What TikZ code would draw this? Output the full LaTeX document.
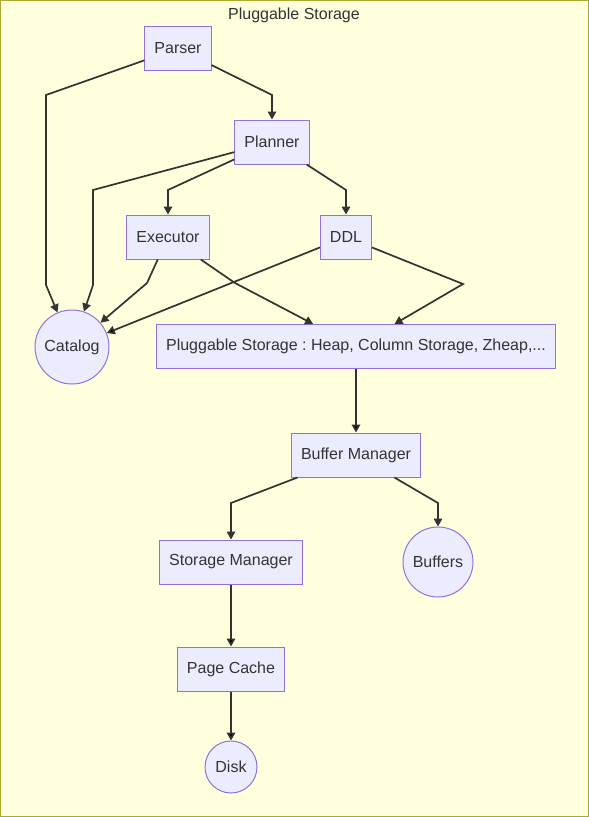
\documentclass[tikz,border=0pt]{standalone}
\usepackage{fontspec}
\setmainfont{Liberation Sans}
\usetikzlibrary{arrows.meta}
\definecolor{bgyellow}{HTML}{FFFFDE}
\definecolor{bgborder}{HTML}{AAAA33}
\definecolor{nodefill}{HTML}{ECECFF}
\definecolor{nodeline}{HTML}{9370DB}
\definecolor{darkline}{HTML}{333333}
\begin{document}
\frenchspacing
\begin{tikzpicture}[x=1pt, y=-1pt,
  every node/.style={font=\fontsize{16}{19}\selectfont, text=darkline},
  box/.style={shape=rectangle, draw=nodeline, fill=nodefill, line width=1pt, inner xsep=9.5pt, inner ysep=0pt, minimum height=44pt},
  round/.style={shape=circle, draw=nodeline, fill=nodefill, line width=1pt, inner sep=0pt},
  flow/.style={-{Triangle[length=8pt, width=8.5pt]}, line width=1.7pt, draw=darkline}]
\useasboundingbox (0,0) rectangle (589,817);
\path[fill=bgyellow, draw=bgborder, line width=1pt] (0.5,0.5) rectangle (588.5,816.5);
\node (title) at (294, 15) {Pluggable Storage};
\node[box] (parser) at (178, 48.5) {Parser};
\node[box] (planner) at (272, 142) {Planner};
\node[box] (executor) at (168, 237) {Executor};
\node[box] (ddl) at (346, 237) {DDL};
\node[round, minimum size=74pt] (catalog) at (72, 347) {Catalog};
\node[box] (pluggable) at (356, 346.5) {Pluggable Storage : Heap, Column Storage, Zheap,...};
\node[box] (buffermgr) at (356, 455) {Buffer Manager};
\node[box] (storagemgr) at (231, 562) {Storage Manager};
\node[round, minimum size=70pt] (buffers) at (438, 562) {Buffers};
\node[box] (pagecache) at (231, 669) {Page Cache};
\node[round, minimum size=52pt] (disk) at (231, 767) {Disk};
\draw[flow] (parser) -- (46, 95) -- (46, 285) -- (catalog);
\draw[flow] (parser) -- (272, 95) -- (planner);
\draw[flow] (planner) -- (93, 190) -- (93, 285) -- (catalog);
\draw[flow] (planner) -- (168, 190) -- (executor);
\draw[flow] (planner) -- (346, 190) -- (ddl);
\draw[flow] (executor) -- (147, 283) -- (catalog);
\draw[flow] (executor) -- (235, 283) -- (pluggable);
\path[flow] (ddl) edge (catalog);
\draw[flow] (ddl) -- (463, 284) -- (pluggable);
\path[flow] (pluggable) edge (buffermgr);
\draw[flow] (buffermgr) -- (231, 503) -- (storagemgr);
\draw[flow] (buffermgr) -- (438, 503) -- (buffers);
\path[flow] (storagemgr) edge (pagecache);
\path[flow] (pagecache) edge (disk);
\end{tikzpicture}
\end{document}
